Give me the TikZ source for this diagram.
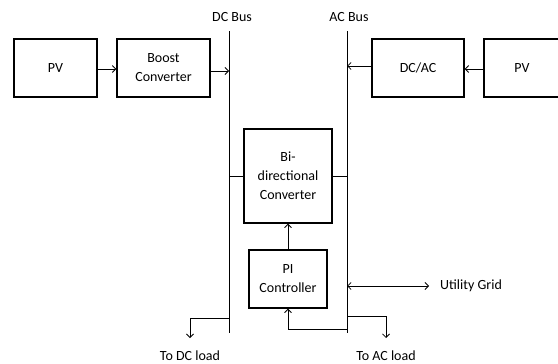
\documentclass[tikz,border=0pt]{standalone}
\usepackage{fontspec}
\setmainfont{Carlito}
\usetikzlibrary{arrows.meta}
\begin{document}
\begin{tikzpicture}[x=1pt,y=-1pt,
  font=\fontsize{14}{19}\selectfont,
  blk/.style={draw, line width=1.3pt, inner sep=0pt, align=center},
  conn/.style={line width=0.8pt},
  arr/.style={conn, -{Straight Barb[length=3.5pt,width=7pt]}},
  darr/.style={conn, {Straight Barb[length=3.5pt,width=7pt]}-{Straight Barb[length=3.5pt,width=7pt]}},
  bus/.style={line width=0.9pt}]
\useasboundingbox (0,0) rectangle (558,364);
\begin{scope}
\clip (0,0) rectangle (558,364);
% boxes
\node[blk, minimum width=83pt, minimum height=58pt] (pv1) at (55.5,68) {PV};
\node[blk, minimum width=93pt, minimum height=58pt] (boost) at (163.5,68) {Boost\\Converter};
\node[blk, minimum width=92pt, minimum height=58pt] (dcac) at (418,68) {DC/AC};
\node[blk, minimum width=76pt, minimum height=58pt] (pv2) at (522,68) {PV};
\node[blk, minimum width=88pt, minimum height=94pt] (bi) at (288,176) {Bi-\\directional\\Converter};
\node[blk, minimum width=78pt, minimum height=58pt] (pi) at (288,279) {PI\\Controller};
% buses
\coordinate (dct) at (229,31);
\coordinate (dcb) at (229,333);
\coordinate (act) at (347,31);
\coordinate (acb) at (347,333);
\draw[bus] (dct) -- (dcb);
\draw[bus] (act) -- (acb);
\node (dclab) at (232,17) {DC Bus};
\node (aclab) at (349,17) {AC Bus};
% connections
\draw[arr] (pv1.east |- 0,69) -- (boost.west |- 0,69);
\draw[arr] (boost.east |- 0,71) -- (dct |- 0,71);
\draw[arr] (pv2.west |- 0,69) -- (dcac.east |- 0,69);
\draw[arr] (dcac.west |- 0,66) -- (act |- 0,66);
\draw[conn] (dct |- bi.west) -- (bi.west);
\draw[conn] (bi.east) -- (act |- bi.east);
\draw[arr] (pi.north) -- (bi.south);
\coordinate (fb) at (347,329);
\draw[arr] (fb) -| (pi.south);
\coordinate (grid) at (429,286);
\draw[darr] (act |- grid) -- (grid);
\node[anchor=west, inner sep=0pt] (gridlab) at (440,286) {Utility Grid};
\coordinate (acl) at (386,338);
\draw[arr] (347,316) -| (acl);
\coordinate (dcl) at (190,338);
\draw[arr] (229,318) -| (dcl);
\node (dcload) at (190,356) {To DC load};
\node (acload) at (386,356) {To AC load};
\end{scope}
\end{tikzpicture}
\end{document}
